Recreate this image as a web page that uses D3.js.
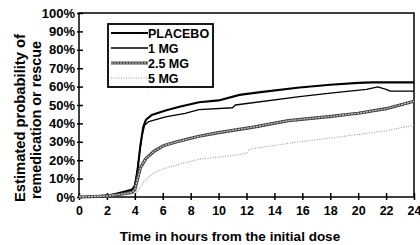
<!DOCTYPE html>
<html>
<head>
<meta charset="utf-8">
<script src="https://cdn.jsdelivr.net/npm/d3@7"></script>
<style>
  body { margin: 0; background: #fff; }
  text { font-family: "Liberation Sans", Arial, sans-serif; font-weight: bold; fill: #000; }
</style>
</head>
<body>
<div id="chart"></div>
<script>
// hours, percent
const placebo = [[0,0],[1.5,0.5],[2.2,1],[2.8,2],[3.3,3],[3.8,4],[4.0,6],[4.2,15],[4.4,28],[4.6,38],[4.8,42],
  [5.2,44.5],[6.2,47],[7.2,49],[8.6,51.5],[10,52.5],[11.5,55.5],[13,57],[15.8,59.5],[18,61],[20,62],[21,62.3],[24,62.3]];
const mg1 = [[0,0],[2,0.5],[2.8,2],[3.5,3],[3.9,4],[4.1,10],[4.3,22],[4.5,33],[4.7,39],[5,41],[6.2,43.5],[7.6,45.5],
  [8.6,47.5],[11,48.5],[11.2,50],[15.8,54.5],[18,56.5],[20.6,58.5],[21.4,59.8],[22,58.5],[22.3,57.5],[24,57.5]];
const mg25 = [[0,0],[2,0.5],[3,1.5],[3.8,2.5],[4.0,4],[4.2,10],[4.4,16],[4.8,21],[5.4,25],[6.1,28],[7,30],[8.6,33],
  [10,35],[12.5,38],[15,41.5],[17.9,43.7],[20,45.5],[22,48],[23,50],[24,52]];
const mg5 = [[0,0.5],[2,1],[3.5,1.5],[4.0,2],[4.3,4],[4.6,8],[5,11],[5.6,14],[6.5,16.4],[8.6,20.5],[11,22.5],[12,23.7],
  [12.2,26],[15.8,30],[18,32],[20,34],[22,36],[24,39]];
const seriesNames = ["PLACEBO", "1 MG", "2.5 MG", "5 MG"];
const xTicks = d3.range(0, 25, 2);
const yTicks = d3.range(0, 101, 10);

const W = 420, H = 245;
const margin = {top: 13, right: 6, bottom: 48, left: 79};
const width = W - margin.left - margin.right;
const height = H - margin.top - margin.bottom;

const svg = d3.select("#chart").append("svg").attr("width", W).attr("height", H);
const g = svg.append("g").attr("transform", `translate(${margin.left},${margin.top})`);

const x = d3.scaleLinear().domain([0, 24]).range([0, width]);
const y = d3.scaleLinear().domain([0, 100]).range([height, 0]);

// frame
g.append("rect").attr("x", 0).attr("y", 0).attr("width", width).attr("height", height)
  .attr("fill", "none").attr("stroke", "#000").attr("stroke-width", 1.5);

const yAxis = g.append("g").call(d3.axisLeft(y).tickValues(yTicks).tickFormat(d => d + "%").tickSize(0).tickPadding(4));
yAxis.select(".domain").remove();
yAxis.selectAll(".tick line").attr("x1", -2).attr("x2", 4).attr("stroke-width", 1.5);
yAxis.selectAll("text").style("font-size", "13px").style("font-family", null);

const xAxis = g.append("g").attr("transform", `translate(0,${height})`)
  .call(d3.axisBottom(x).tickValues(xTicks).tickSize(0).tickPadding(9));
xAxis.select(".domain").remove();
xAxis.selectAll(".tick line").attr("y1", -4).attr("y2", 3).attr("stroke-width", 1.5);
xAxis.selectAll("text").style("font-size", "12.5px").style("font-family", null);

svg.append("text").attr("x", 230).attr("y", 241).attr("text-anchor", "middle")
  .style("font-size", "13.5px").text("Time in hours from the initial dose");
svg.append("text").attr("transform", "translate(25,118) rotate(-90)").attr("text-anchor", "middle")
  .style("font-size", "15px").attr("textLength", 168).attr("lengthAdjust", "spacingAndGlyphs")
  .text("Estimated probability of");
svg.append("text").attr("transform", "translate(41,120) rotate(-90)").attr("text-anchor", "middle")
  .style("font-size", "15px").attr("textLength", 158).attr("lengthAdjust", "spacingAndGlyphs")
  .text("remedication or rescue");

const line = d3.line().x(d => x(d[0])).y(d => y(d[1]));
const styles = [
  [{stroke: "#000", w: 2.1}],
  [{stroke: "#000", w: 1.3}],
  [{stroke: "#444", w: 3.2}, {stroke: "#ccc", w: 1.2, dash: "2,1"}],
  [{stroke: "#999", w: 1.1, dash: "1,1.5"}]
];
const data = [placebo, mg1, mg25, mg5];

data.forEach((s, i) => {
  styles[i].forEach(st => {
    g.append("path").datum(s).attr("d", line).attr("fill", "none")
      .attr("stroke", st.stroke).attr("stroke-width", st.w)
      .attr("stroke-dasharray", st.dash || null).attr("stroke-linejoin", "round");
  });
});

// legend
const lg = svg.append("g").attr("transform", "translate(108,24)");
lg.append("rect").attr("width", 105).attr("height", 63).attr("fill", "#fff")
  .attr("stroke", "#000").attr("stroke-width", 1.8);
seriesNames.forEach((name, i) => {
  const ly = 9 + i * 15;
  styles[i].forEach(st => {
    lg.append("line").attr("x1", 3).attr("x2", 40).attr("y1", ly).attr("y2", ly)
      .attr("stroke", st.stroke).attr("stroke-width", st.w).attr("stroke-dasharray", st.dash || null);
  });
  lg.append("text").attr("x", 40).attr("y", ly + 4.5).style("font-size", "12.5px").text(name);
});
</script>
</body>
</html>
